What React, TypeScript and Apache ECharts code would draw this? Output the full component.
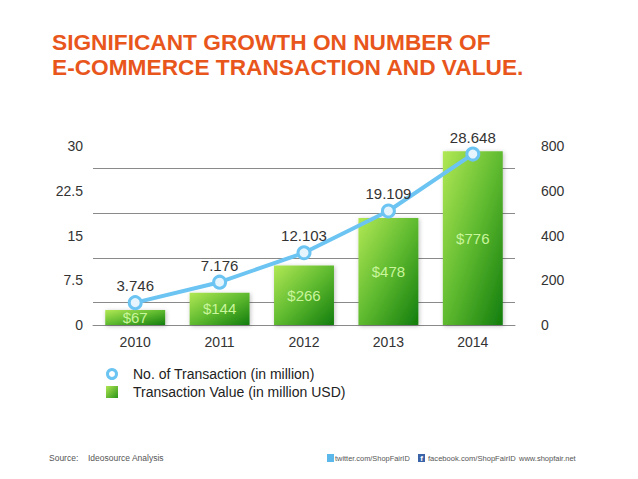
import React, { useEffect, useRef } from 'react';
import * as echarts from 'echarts';

const years = ['2010', '2011', '2012', '2013', '2014'];
const transactions = [3.746, 7.176, 12.103, 19.109, 28.648];
const values = [67, 144, 266, 478, 776];
// Keynote draws its rules half-way between the tick labels
const ruleLevels = [3.75, 11.25, 18.75, 26.25];

const FONT = '"Liberation Sans", Arial, Helvetica, sans-serif';
const BLUE = '#6cc4f2';
const FOOT = '#555';

const App = () => {
  const chartRef = useRef<HTMLDivElement>(null);

  useEffect(() => {
    let chart: echarts.ECharts | null = null;
    if (chartRef.current) {
      chart = echarts.init(chartRef.current, null, { renderer: 'svg' });

      const barGradient = new echarts.graphic.LinearGradient(0, 0, 1, 1, [
        { offset: 0, color: '#b2e855' },
        { offset: 0.5, color: '#5fba2f' },
        { offset: 1, color: '#127d0d' },
      ]);
      const swatchGradient = new echarts.graphic.LinearGradient(0, 0, 1, 1, [
        { offset: 0, color: '#aee651' },
        { offset: 1, color: '#2a9418' },
      ]);

      const option: echarts.EChartsOption = {
        animation: false,
        textStyle: { fontFamily: FONT },
        title: {
          text: 'SIGNIFICANT GROWTH ON NUMBER OF\nE-COMMERCE TRANSACTION AND VALUE.',
          left: 47,
          top: 24,
          textStyle: {
            color: '#e8561c',
            fontSize: 22.7,
            fontWeight: 'bold',
            lineHeight: 25,
            fontFamily: FONT,
          },
        },
        grid: {
          left: 93,
          right: 123,
          top: 146,
          bottom: 154,
        },
        xAxis: {
          type: 'category',
          data: years,
          axisLine: { lineStyle: { color: '#8a8a8a', width: 1 } },
          axisTick: { show: false },
          axisLabel: { fontSize: 14, color: '#333', margin: 10, fontFamily: FONT },
        },
        yAxis: [
          {
            type: 'value',
            min: 0,
            max: 30,
            interval: 7.5,
            splitLine: { show: false },
            axisLine: { show: false },
            axisTick: { show: false },
            axisLabel: { fontSize: 14, color: '#333', margin: 10, fontFamily: FONT },
          },
          {
            type: 'value',
            min: 0,
            max: 800,
            interval: 200,
            splitLine: { show: false },
            axisLine: { show: false },
            axisTick: { show: false },
            axisLabel: { fontSize: 14, color: '#333', margin: 26, fontFamily: FONT },
          },
        ],
        series: [
          {
            name: 'Transaction Value (in million USD)',
            type: 'bar',
            yAxisIndex: 1,
            data: values,
            barWidth: '71%',
            itemStyle: {
              color: barGradient,
              shadowBlur: 4,
              shadowColor: 'rgba(0,0,0,0.25)',
              shadowOffsetX: 1,
              shadowOffsetY: 1,
            },
            label: {
              show: true,
              position: 'inside',
              formatter: (p: any) => '$' + p.value,
              color: '#c9f59c',
              fontSize: 15,
              fontFamily: FONT,
            },
            z: 2,
          },
          {
            name: 'No. of Transaction (in million)',
            type: 'line',
            yAxisIndex: 0,
            data: transactions,
            symbol: 'circle',
            symbolSize: 12,
            lineStyle: { color: BLUE, width: 4 },
            itemStyle: { color: '#e6f5fd', borderColor: BLUE, borderWidth: 3 },
            label: {
              show: true,
              position: 'top',
              distance: 2,
              color: '#333',
              fontSize: 15,
              fontFamily: FONT,
            },
            markLine: {
              silent: true,
              symbol: 'none',
              label: { show: false },
              lineStyle: { color: '#8a8a8a', width: 1, type: 'solid' },
              data: ruleLevels.map((v) => ({ yAxis: v })),
              z: 1,
            },
            z: 5,
          },
        ],
        graphic: [
          // legend
          {
            type: 'circle',
            x: 112,
            y: 374,
            shape: { r: 4.5 },
            style: { fill: '#ffffff', stroke: BLUE, lineWidth: 3 },
          },
          {
            type: 'text',
            x: 133,
            y: 374,
            style: {
              text: 'No. of Transaction (in million)',
              fontSize: 14,
              fill: '#222',
              fontFamily: FONT,
              verticalAlign: 'middle',
            },
          },
          {
            type: 'rect',
            x: 106,
            y: 386,
            shape: { width: 12, height: 12 },
            style: { fill: swatchGradient },
          },
          {
            type: 'text',
            x: 133,
            y: 392,
            style: {
              text: 'Transaction Value (in million USD)',
              fontSize: 14,
              fill: '#222',
              fontFamily: FONT,
              verticalAlign: 'middle',
            },
          },
          // footer
          {
            type: 'text',
            x: 49,
            y: 457.5,
            style: { text: 'Source:', fontSize: 8.5, fill: FOOT, fontFamily: FONT, verticalAlign: 'middle' },
          },
          {
            type: 'text',
            x: 88,
            y: 457.5,
            style: { text: 'Ideosource Analysis', fontSize: 8.5, fill: FOOT, fontFamily: FONT, verticalAlign: 'middle' },
          },
          {
            type: 'rect',
            x: 327,
            y: 454,
            shape: { width: 7, height: 8 },
            style: { fill: '#5cb8ea' },
          },
          {
            type: 'text',
            x: 335,
            y: 458,
            style: { text: 'twitter.com/ShopFairID', fontSize: 7.4, fill: FOOT, fontFamily: FONT, verticalAlign: 'middle' },
          },
          {
            type: 'rect',
            x: 418,
            y: 454,
            shape: { width: 7, height: 8 },
            style: { fill: '#3b63a8' },
          },
          {
            type: 'text',
            x: 421.5,
            y: 458.5,
            style: {
              text: 'f',
              fontSize: 8,
              fontWeight: 'bold',
              fill: '#fff',
              fontFamily: FONT,
              align: 'center',
              verticalAlign: 'middle',
            },
          },
          {
            type: 'text',
            x: 428,
            y: 458,
            style: { text: 'facebook.com/ShopFairID', fontSize: 7.6, fill: FOOT, fontFamily: FONT, verticalAlign: 'middle' },
          },
          {
            type: 'text',
            x: 519,
            y: 458,
            style: { text: 'www.shopfair.net', fontSize: 7.5, fill: FOOT, fontFamily: FONT, verticalAlign: 'middle' },
          },
        ],
      };
      chart.setOption(option);
    }

    const handleResize = () => chart?.resize();
    window.addEventListener('resize', handleResize);
    return () => {
      chart?.dispose();
      window.removeEventListener('resize', handleResize);
    };
  }, []);

  return (
    <div
      ref={chartRef}
      style={{ position: 'absolute', left: 0, top: 0, width: '638px', height: '479px', background: '#fff' }}
    />
  );
};

export default App;
